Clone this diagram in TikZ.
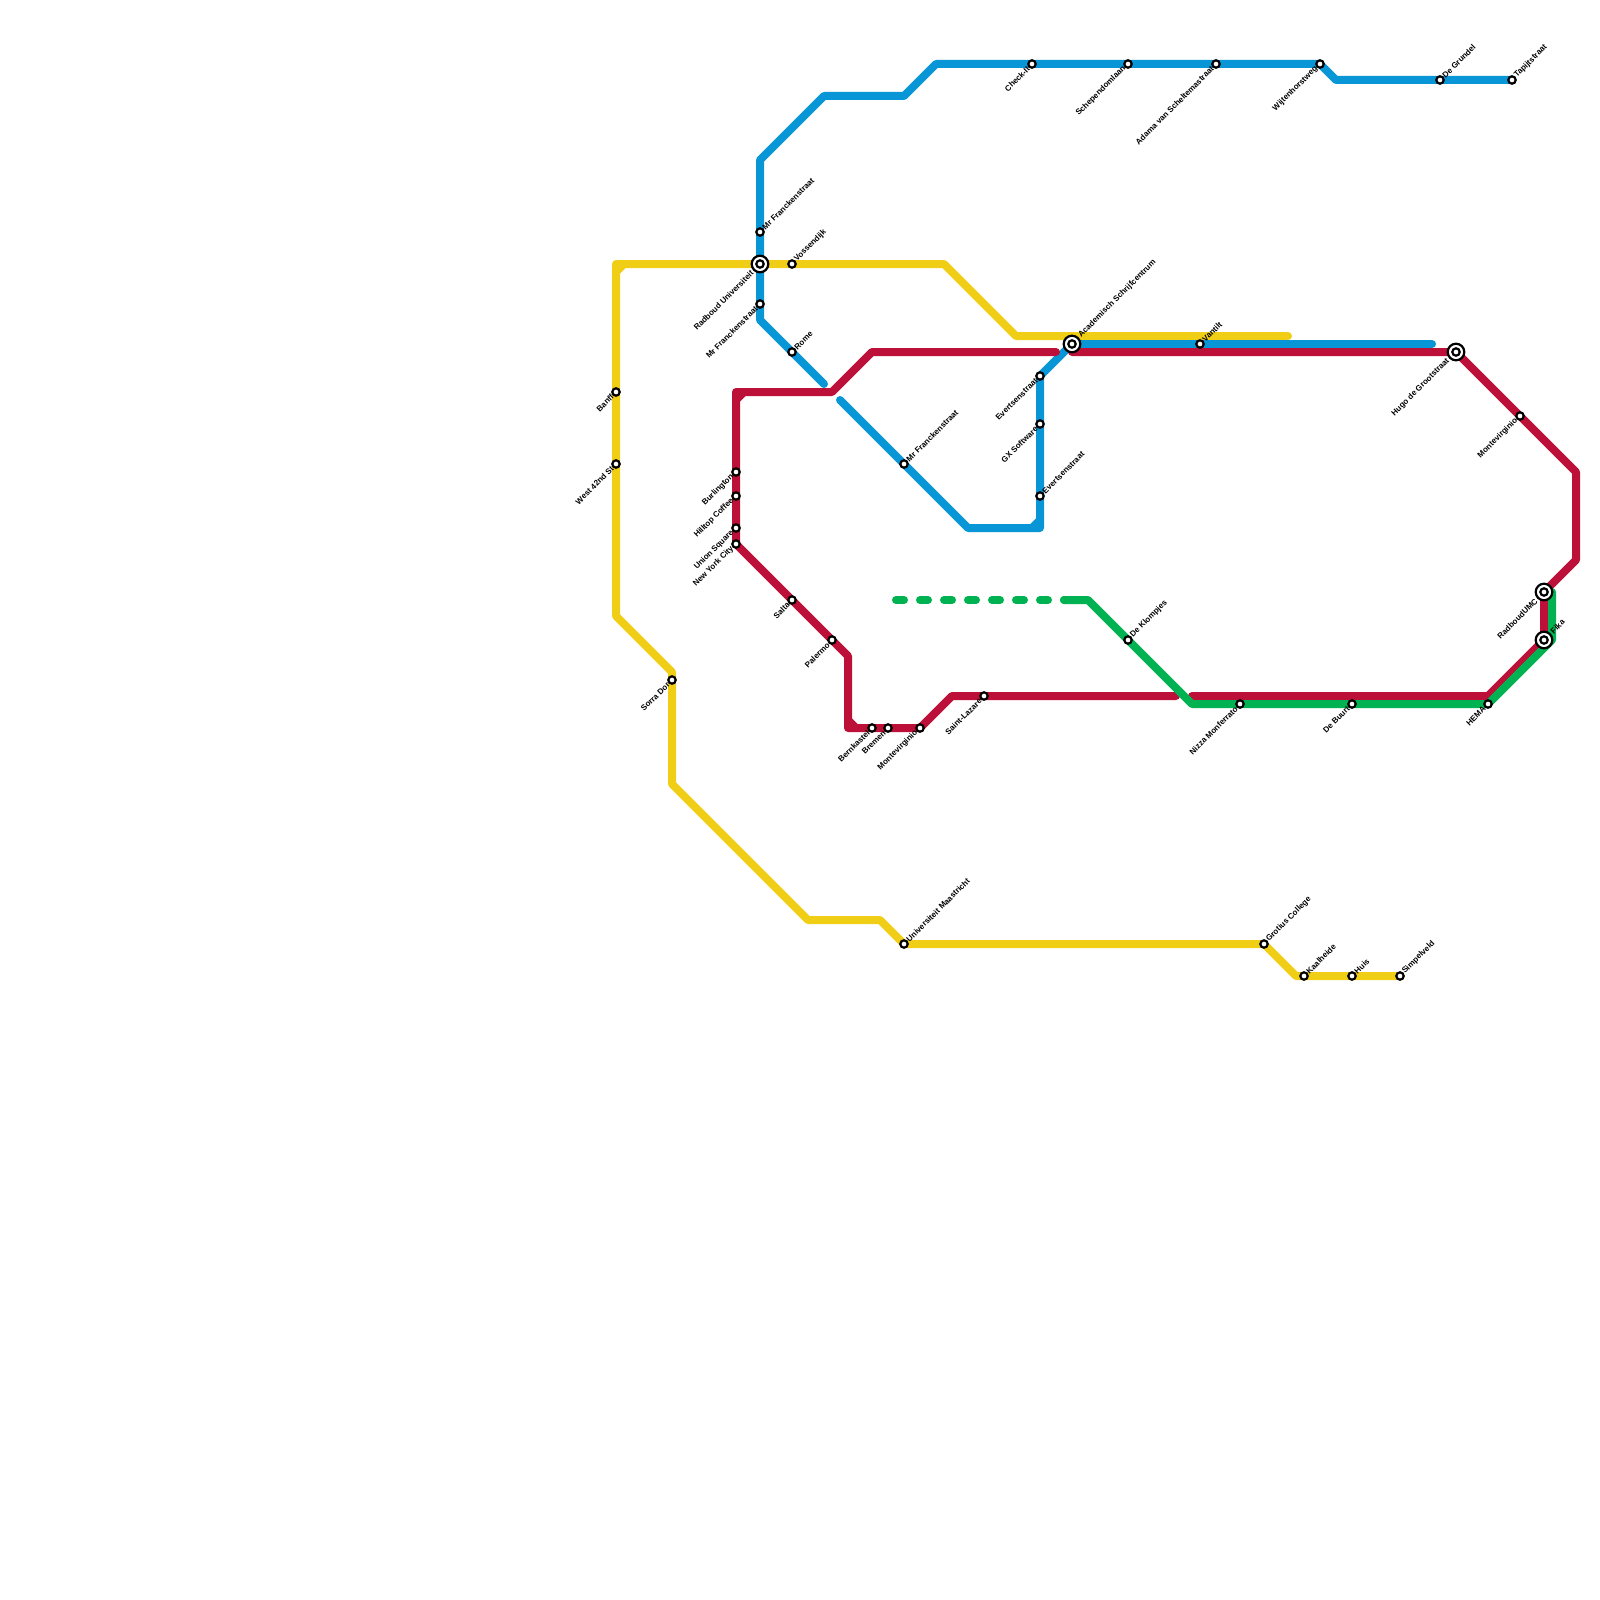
\documentclass[tikz,border=0pt]{standalone}
\usepackage{fontspec}
\setmainfont{Liberation Sans}
\usetikzlibrary{backgrounds}
\definecolor{lineyellow}{HTML}{F0CE15}
\definecolor{lineblue}{HTML}{0896D7}
\definecolor{linered}{HTML}{BD1038}
\definecolor{linegreen}{HTML}{00B251}

\begin{document}
\begin{tikzpicture}[
  x=1pt, y=-1pt,
  stn/.style={draw=black, fill=white, circle, line width=2.2pt, inner sep=0pt, outer sep=0pt, minimum size=7.4pt},
  hub/.style={draw=black, fill=white, circle, line width=2.2pt, inner sep=0pt, outer sep=0pt, minimum size=16.6pt},
  lbl/.style={font=\fontsize{8}{9}\selectfont\bfseries, inner ysep=0pt, rotate=45},
  ne/.style={append after command={(\tikzlastnode.center) node[lbl, anchor=west, inner xsep=5pt] {#1}}},
  sw/.style={append after command={(\tikzlastnode.center) node[lbl, anchor=east, inner xsep=5pt] {#1}}},
  hubne/.style={append after command={(\tikzlastnode.center) node[lbl, anchor=west, inner xsep=11pt] {#1}}},
  hubsw/.style={append after command={(\tikzlastnode.center) node[lbl, anchor=east, inner xsep=11pt] {#1}}},
  route/.style={line width=8pt, line cap=round, line join=round},
]
  \useasboundingbox (0,0) rectangle (1600,1600);

  % interchanges
  \node[hub, hubsw={Radboud Universiteit}] (radboud) at (760,264) {};
  \node[hub, hubne={Academisch Schrijfcentrum}] (academisch) at (1072,344) {};
  \node[hub, hubsw={Hugo de Grootstraat}] (hugo) at (1456,352) {};
  \node[hub, hubsw={RadboudUMC}] (umc) at (1544,592) {};
  \node[hub, hubne={Fika}] (fika) at (1544,640) {};
  \node[stn] (radboudin) at (radboud) {};
  \node[stn] (academischin) at (academisch) {};
  \node[stn] (hugoin) at (hugo) {};
  \node[stn] (umcin) at (umc) {};
  \node[stn] (fikain) at (fika) {};

  % yellow stops
  \node[stn, sw={Banff}] (banff) at (616,392) {};
  \node[stn, sw={West 42nd St}] (west) at (616,464) {};
  \node[stn, sw={Sorra Dor}] (sorra) at (672,680) {};
  \node[stn, ne={Vossendijk}] (vossen) at (792,264) {};
  \node[stn, ne={Universiteit Maastricht}] (maastricht) at (904,944) {};
  \node[stn, ne={Grotius College}] (grotius) at (1264,944) {};
  \node[stn, ne={Kaalheide}] (kaal) at (1304,976) {};
  \node[stn, ne={Huis}] (huis) at (1352,976) {};
  \node[stn, ne={Simpelveld}] (simpel) at (1400,976) {};

  % blue stops
  \node[stn, ne={Mr Franckenstraat}] (franckA) at (760,232) {};
  \node[stn, sw={Mr Franckenstraat}] (franckB) at (760,304) {};
  \node[stn, ne={Rome}] (rome) at (792,352) {};
  \node[stn, ne={Mr Franckenstraat}] (franckC) at (904,464) {};
  \node[stn, sw={Evertsenstraat}] (evertA) at (1040,376) {};
  \node[stn, sw={GX Software}] (gx) at (1040,424) {};
  \node[stn, ne={Evertsenstraat}] (evertB) at (1040,496) {};
  \node[stn, ne={Vantilt}] (vantilt) at (1200,344) {};
  \node[stn, sw={Check-It}] (check) at (1032,64) {};
  \node[stn, sw={Schependomlaan}] (schepen) at (1128,64) {};
  \node[stn, sw={Adama van Scheltemastraat}] (adama) at (1216,64) {};
  \node[stn, sw={Wijtenhorstweg}] (wijten) at (1320,64) {};
  \node[stn, ne={De Grundel}] (grundel) at (1440,80) {};
  \node[stn, ne={Tapijtstraat}] (tapijt) at (1512,80) {};

  % red stops
  \node[stn, sw={Burlington}] (burl) at (736,472) {};
  \node[stn, sw={Hilltop Coffee}] (hilltop) at (736,496) {};
  \node[stn, sw={Union Square}] (union) at (736,528) {};
  \node[stn, sw={New York City}] (nyc) at (736,544) {};
  \node[stn, sw={Salta}] (salta) at (792,600) {};
  \node[stn, sw={Palermo}] (palermo) at (832,640) {};
  \node[stn, sw={Bernkastel}] (bern) at (872,728) {};
  \node[stn, sw={Bremen}] (bremen) at (888,728) {};
  \node[stn, sw={Montevirginio}] (monteA) at (920,728) {};
  \node[stn, sw={Saint-Lazare}] (lazare) at (984,696) {};
  \node[stn, sw={Montevirginio}] (monteB) at (1520,416) {};

  % green stops
  \node[stn, ne={De Klompjes}] (klomp) at (1128,640) {};
  \node[stn, sw={Nizza Monferrato}] (nizza) at (1240,704) {};
  \node[stn, sw={De Buurt}] (buurt) at (1352,704) {};
  \node[stn, sw={HEMA}] (hema) at (1488,704) {};

  % bends
  \coordinate (ya) at (616,264);
  \coordinate (yb) at (616,272);
  \coordinate (yc) at (624,264);
  \coordinate (yd) at (616,616);
  \coordinate (ye) at (672,672);
  \coordinate (yf) at (672,784);
  \coordinate (yg) at (808,920);
  \coordinate (yh) at (880,920);
  \coordinate (yi) at (944,264);
  \coordinate (yj) at (1016,336);
  \coordinate (yk) at (1288,336);
  \coordinate (yl) at (1296,976);

  \coordinate (ba) at (840,400);
  \coordinate (bb) at (968,528);
  \coordinate (bc) at (1040,528);
  \coordinate (bd) at (1040,520);
  \coordinate (be) at (1032,528);
  \coordinate (bf) at (1432,344);
  \coordinate (bg) at (824,384);
  \coordinate (bh) at (760,320);
  \coordinate (bi) at (760,160);
  \coordinate (bj) at (824,96);
  \coordinate (bk) at (904,96);
  \coordinate (bl) at (936,64);
  \coordinate (bm) at (1336,80);

  \coordinate (ra) at (736,392);
  \coordinate (rb) at (736,400);
  \coordinate (rc) at (744,392);
  \coordinate (rd) at (832,392);
  \coordinate (re) at (872,352);
  \coordinate (rf) at (1056,352);
  \coordinate (rg) at (848,656);
  \coordinate (rh) at (848,728);
  \coordinate (ri) at (848,720);
  \coordinate (rj) at (856,728);
  \coordinate (rk) at (952,696);
  \coordinate (rl) at (1176,696);
  \coordinate (rm) at (1072,352);
  \coordinate (rn) at (1576,472);
  \coordinate (ro) at (1576,560);
  \coordinate (rp) at (1488,696);
  \coordinate (rq) at (1192,696);

  \coordinate (ga) at (896,600);
  \coordinate (gb) at (1064,600);
  \coordinate (gc) at (1088,600);
  \coordinate (gd) at (1192,704);
  \coordinate (ge) at (1552,640);
  \coordinate (gf) at (1552,592);

  \begin{pgfonlayer}{background}
    \draw[route, lineyellow] (yc) -- (yb);
    \draw[route, lineyellow] (simpel.center) -- (huis.center) -- (kaal.center) -- (yl) -- (grotius.center) -- (maastricht.center) -- (yh) -- (yg) -- (yf) -- (sorra.center) -- (ye) -- (yd) -- (west.center) -- (banff.center) -- (ya) -- (radboud.center) -- (vossen.center) -- (yi) -- (yj) -- (yk);

    \draw[route, lineblue] (bg) -- (rome.center) -- (bh) -- (franckB.center) -- (radboud.center) -- (franckA.center) -- (bi) -- (bj) -- (bk) -- (bl) -- (check.center) -- (schepen.center) -- (adama.center) -- (wijten.center) -- (bm) -- (grundel.center) -- (tapijt.center);
    \draw[route, lineblue] (ba) -- (franckC.center) -- (bb) -- (bc) -- (evertB.center) -- (gx.center) -- (evertA.center) -- (academisch.center) -- (vantilt.center) -- (bf);
    \draw[route, lineblue] (bd) -- (be);

    \draw[route, linered] (rb) -- (rc);
    \draw[route, linered] (ri) -- (rj);
    \draw[route, linered] (rf) -- (re) -- (rd) -- (ra) -- (burl.center) -- (hilltop.center) -- (union.center) -- (nyc.center) -- (salta.center) -- (palermo.center) -- (rg) -- (rh) -- (bern.center) -- (bremen.center) -- (monteA.center) -- (rk) -- (lazare.center) -- (rl);
    \draw[route, linered] (rm) -- (hugo.center) -- (monteB.center) -- (rn) -- (ro) -- (umc.center) -- (fika.center) -- (rp) -- (rq);

    \draw[route, linegreen, dash pattern=on 8pt off 16pt] (ga) -- (gb);
    \draw[route, linegreen] (gb) -- (gc) -- (klomp.center) -- (gd) -- (nizza.center) -- (buurt.center) -- (hema.center) -- (ge) -- (gf);
  \end{pgfonlayer}
\end{tikzpicture}
\end{document}
